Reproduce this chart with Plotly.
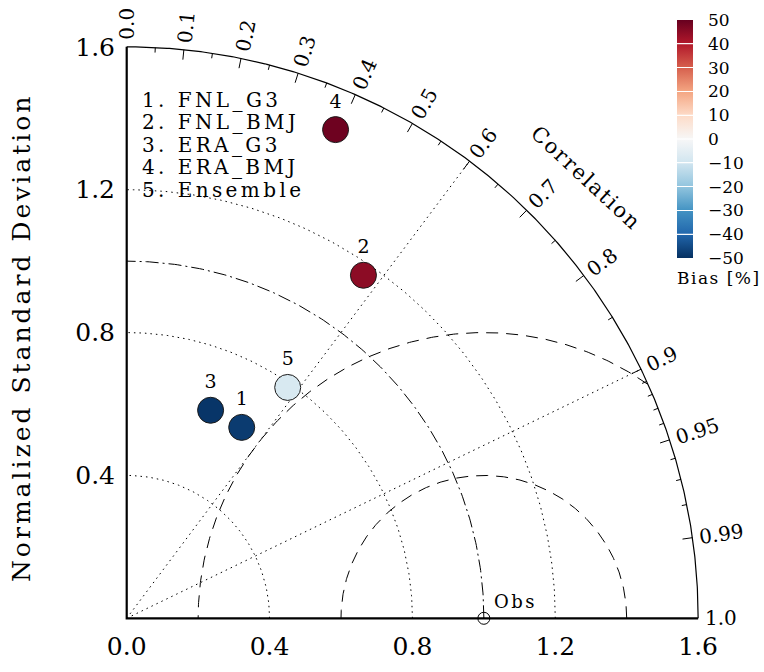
import numpy as np
import plotly.graph_objects as go

# ---------------- data ----------------
models = ["FNL_G3", "FNL_BMJ", "ERA_G3", "ERA_BMJ", "Ensemble"]
model_ids = ["1", "2", "3", "4", "5"]
norm_std = [0.624, 1.167, 0.628, 1.488, 0.788]
correlation = [0.516, 0.568, 0.374, 0.393, 0.572]
bias_pct = [-48, 45, -49, 49, -8]

obs_std = 1.0
max_std = 1.6
std_arcs = [0.4, 0.8, 1.2]
rms_arcs = [0.4, 0.8]
corr_lines = [0.6, 0.9]
corr_major = [0.0, 0.1, 0.2, 0.3, 0.4, 0.5, 0.6, 0.7, 0.8, 0.9, 0.95, 0.99, 1.0]
corr_major_text = ["0.0", "0.1", "0.2", "0.3", "0.4", "0.5", "0.6", "0.7",
                   "0.8", "0.9", "0.95", "0.99", "1.0"]
corr_minor = [0.05, 0.15, 0.25, 0.35, 0.45, 0.55, 0.65, 0.75, 0.85,
              0.91, 0.92, 0.93, 0.94, 0.96, 0.97, 0.98]
x_tick_vals = [0.0, 0.4, 0.8, 1.2, 1.6]
y_tick_vals = [0.4, 0.8, 1.2, 1.6]
bias_ticks = [-50, -40, -30, -20, -10, 0, 10, 20, 30, 40, 50]

# ---------------- style ----------------
FONT = "DejaVu Serif"
XR = [-0.03, 1.65]
YR = [-0.03, 1.65]
ML, MR, MT, MB = 116, 48, 29, 43
PX = 600 / 1.68  # pixels per data unit

brewer = ["rgb(5,48,97)", "rgb(33,102,172)", "rgb(67,147,195)", "rgb(146,197,222)",
          "rgb(209,229,240)", "rgb(247,247,247)", "rgb(253,219,199)", "rgb(244,165,130)",
          "rgb(214,96,77)", "rgb(178,24,43)", "rgb(103,0,31)"]


def lerp(c1, c2, f):
    a = [float(v) for v in c1[4:-1].split(",")]
    b = [float(v) for v in c2[4:-1].split(",")]
    return "rgb(%d,%d,%d)" % tuple(round(a[i] + (b[i] - a[i]) * f) for i in range(3))


# colour scale with thin white separators at every 10 %
cscale = [[0.0, brewer[0]]]
for k in range(1, 10):
    p = k / 10
    e = 0.0035
    c_lo = lerp(brewer[k - 1], brewer[k], 1 - e * 10)
    c_hi = lerp(brewer[k], brewer[k + 1], e * 10)
    cscale += [[p - e, c_lo], [p - e / 3, "rgb(255,255,255)"],
               [p + e / 3, "rgb(255,255,255)"], [p + e, c_hi]]
cscale.append([1.0, brewer[10]])


def sp(text, px):
    return f'<span style="letter-spacing:{px}px">{text}</span>'


def to_paper(x, y):
    return (x - XR[0]) / (XR[1] - XR[0]), (y - YR[0]) / (YR[1] - YR[0])


def join(segs):
    xs, ys = [], []
    for x, y in segs:
        xs += list(x) + [None]
        ys += list(y) + [None]
    return xs, ys


fig = go.Figure()

DOT = "1.5px,4px"
# std arcs (dotted)
t = np.linspace(0, np.pi / 2, 200)
xs, ys = join([(r * np.cos(t), r * np.sin(t)) for r in std_arcs])
fig.add_trace(go.Scatter(x=xs, y=ys, mode="lines", hoverinfo="skip",
                         line=dict(color="black", width=1, dash=DOT)))
# correlation lines (dotted)
xs, ys = join([([0, max_std * c], [0, max_std * np.sqrt(1 - c * c)]) for c in corr_lines])
fig.add_trace(go.Scatter(x=xs, y=ys, mode="lines", hoverinfo="skip",
                         line=dict(color="black", width=1, dash=DOT)))
# reference std arc (dash-dot)
fig.add_trace(go.Scatter(x=obs_std * np.cos(t), y=obs_std * np.sin(t), mode="lines",
                         hoverinfo="skip",
                         line=dict(color="black", width=1, dash="13px,4px,2px,4px")))
# centred RMS arcs (dashed)
segs = []
phi = np.linspace(0, np.pi, 400)
for R in rms_arcs:
    x = obs_std + R * np.cos(phi)
    y = R * np.sin(phi)
    keep = (x * x + y * y) <= max_std ** 2 + 1e-9
    segs.append((x[keep], y[keep]))
xs, ys = join(segs)
fig.add_trace(go.Scatter(x=xs, y=ys, mode="lines", hoverinfo="skip",
                         line=dict(color="black", width=1, dash="12px,8px")))
# outer arc
to = np.linspace(0, np.pi / 2, 400)
fig.add_trace(go.Scatter(x=max_std * np.cos(to), y=max_std * np.sin(to), mode="lines",
                         hoverinfo="skip", line=dict(color="black", width=1.2)))
# axes lines
fig.add_trace(go.Scatter(x=[0, 0, max_std], y=[max_std, 0, 0], mode="lines",
                         hoverinfo="skip", line=dict(color="black", width=2.2)))
# correlation ticks on outer arc
segs = []
for c in corr_major[1:-1]:
    s = np.sqrt(1 - c * c)
    r0 = max_std - 10 / PX
    segs.append(([r0 * c, max_std * c], [r0 * s, max_std * s]))
for c in corr_minor:
    s = np.sqrt(1 - c * c)
    r0 = max_std - 5 / PX
    segs.append(([r0 * c, max_std * c], [r0 * s, max_std * s]))
xs, ys = join(segs)
fig.add_trace(go.Scatter(x=xs, y=ys, mode="lines", hoverinfo="skip",
                         line=dict(color="black", width=1)))

# observation point
fig.add_trace(go.Scatter(x=[obs_std], y=[0], mode="markers", hoverinfo="skip",
                         cliponaxis=False,
                         marker=dict(symbol="circle-open-dot", size=12,
                                     color="black", line=dict(width=1, color="black"))))

# models
corr_arr = np.array(correlation)
std_arr = np.array(norm_std)
mx = std_arr * corr_arr
my = std_arr * np.sqrt(1 - corr_arr ** 2)
fig.add_trace(go.Scatter(
    x=mx, y=my, mode="markers+text", text=model_ids, textposition="top center",
    textfont=dict(family=FONT, size=19, color="black"), cliponaxis=False,
    customdata=models, hovertemplate="%{customdata}<extra></extra>",
    marker=dict(size=26, color=bias_pct, colorscale=cscale, cmin=-50, cmax=50,
                line=dict(color="#1a1a1a", width=1),
                showscale=True,
                colorbar=dict(x=(677 - ML) / 600, xanchor="left", xpad=0,
                              y=(672 - MB - 20) / 600, yanchor="top", ypad=0,
                              len=238, lenmode="pixels", thickness=16,
                              outlinewidth=0, tickvals=bias_ticks,
                              ticks="outside", ticklen=12, tickcolor="white", tickwidth=1,
                              tickfont=dict(family=FONT, size=17, color="black")))))

annotations = []
# correlation labels (rotated)
LF = 20
for c, txt in zip(corr_major, corr_major_text):
    th = np.arccos(c)
    w = LF * (0.636 * sum(ch.isdigit() for ch in txt) + 0.318 * txt.count("."))
    r = max_std + (7 + w / 2) / PX
    px_, py_ = to_paper(r * np.cos(th), r * np.sin(th))
    annotations.append(dict(x=px_, y=py_, xref="paper", yref="paper", text=txt,
                            showarrow=False, textangle=-np.degrees(th),
                            xanchor="center", yanchor="middle",
                            font=dict(family=FONT, size=LF, color="black")))
px_, py_ = to_paper(1.285, 1.232)
annotations.append(dict(x=px_, y=py_, xref="paper", yref="paper",
                        text=sp("Correlation", 1.8), showarrow=False, textangle=43,
                        xanchor="center", yanchor="middle",
                        font=dict(family=FONT, size=21, color="black")))
# legend text
for i, (mid, m) in enumerate(zip(model_ids, models)):
    px_, py_ = to_paper(13 / PX, (618.3 - 100 - 22.5 * i) / PX)
    annotations.append(dict(x=px_, y=py_, xref="paper", yref="paper",
                            xanchor="left", yanchor="middle", showarrow=False,
                            text=sp(f"{mid}. {m}", 3.4),
                            font=dict(family=FONT, size=20, color="black")))
# obs label
annotations.append(dict(x=obs_std, y=0, xanchor="left", yanchor="bottom", xshift=8, yshift=4,
                        text=sp("Obs", 2.5), showarrow=False,
                        font=dict(family=FONT, size=18, color="black")))
# y title
px_, py_ = to_paper((22 - 126.7) / PX, (618.3 - 338) / PX)
annotations.append(dict(x=px_, y=py_, xref="paper", yref="paper", xanchor="center",
                        yanchor="middle", textangle=-90, showarrow=False,
                        text=sp("Normalized Standard Deviation", 3),
                        font=dict(family=FONT, size=25, color="black")))
# colour bar title
annotations.append(dict(x=(675 - ML) / 600, y=(672 - MB - 278) / 600, xref="paper",
                        yref="paper", xanchor="left", yanchor="middle", showarrow=False,
                        text=sp("Bias [%]", 1.5),
                        font=dict(family=FONT, size=17, color="black")))

fig.update_layout(
    width=764, height=672,
    margin=dict(l=ML, r=MR, t=MT, b=MB, autoexpand=False),
    paper_bgcolor="white", plot_bgcolor="white",
    showlegend=False,
    annotations=annotations,
    xaxis=dict(range=XR, showgrid=False, zeroline=False, showline=False,
               tickvals=x_tick_vals, ticktext=[f"{v:.1f}" for v in x_tick_vals],
               ticks="", tickfont=dict(family=FONT, size=25, color="black")),
    yaxis=dict(range=YR, showgrid=False, zeroline=False, showline=False,
               tickvals=y_tick_vals, ticktext=[f"{v:.1f}" for v in y_tick_vals],
               ticks="", tickfont=dict(family=FONT, size=25, color="black")),
)

fig.write_html("out.html")
